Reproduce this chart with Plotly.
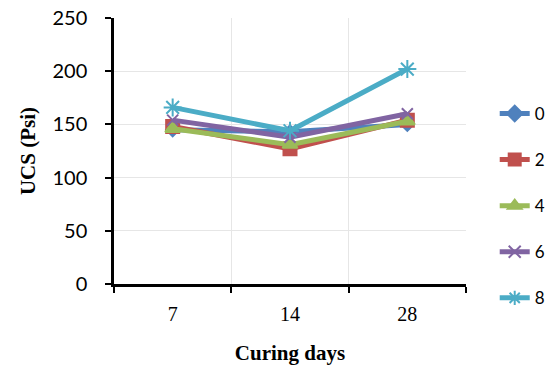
import plotly.graph_objects as go

# Curing period (days) and unconfined compressive strength (psi) per additive content
curing_days = ["7", "14", "28"]
series_names = ["0", "2", "4", "6", "8"]
ucs_0 = [145, 143, 150]
ucs_2 = [148, 127, 154]
ucs_4 = [146, 131, 153]
ucs_6 = [154, 138, 160]
ucs_8 = [166, 144, 202]
y_ticks = [0, 50, 100, 150, 200, 250]

series = [ucs_0, ucs_2, ucs_4, ucs_6, ucs_8]
colors = ["#4F81BD", "#C0504D", "#9BBB59", "#8064A2", "#4BACC6"]
symbols = ["diamond", "square", "triangle-up", "x-thin", "asterisk-open"]
sizes = [10, 13, 13, 11, 15]

fig = go.Figure()
for name, vals, col, sym, sz in zip(series_names, series, colors, symbols, sizes):
    fig.add_trace(go.Scatter(
        x=curing_days, y=vals, name=name, mode="lines+markers",
        line=dict(color=col, width=5),
        marker=dict(symbol=sym, size=sz, color=col,
                    line=dict(color=col, width=2)),
        legendgroup=name,
    ))

fig.update_layout(
    width=559, height=376,
    margin=dict(l=114, r=93, t=18, b=92, autoexpand=False),
    paper_bgcolor="white", plot_bgcolor="white",
    showlegend=True,
    legend=dict(xref="container", yref="container",
                x=0.885, xanchor="left", y=0.745, yanchor="top",
                itemsizing="constant", maxheight=330,
                font=dict(family="Lato", size=17, color="black"),
                tracegroupgap=21, bgcolor="rgba(0,0,0,0)"),
    xaxis=dict(
        type="category", tickson="boundaries", ticks="outside", ticklen=6,
        tickwidth=2, tickcolor="black", showline=True, linecolor="black",
        linewidth=2.5, showgrid=True, gridcolor="#e6e6e6", gridwidth=1,
        tickfont=dict(family="Liberation Serif", size=20, color="black"),
        ticklabelstandoff=10,
        title=dict(text="<b>Curing days</b>", standoff=22,
                   font=dict(family="Liberation Serif", size=21, color="black")),
        range=[-0.5, 2.5], zeroline=False,
    ),
    yaxis=dict(
        range=[0, 250], tickvals=y_ticks, ticks="outside", ticklen=6,
        tickwidth=2, tickcolor="black", showline=True, linecolor="black",
        linewidth=2.5, showgrid=True, gridcolor="#e6e6e6", gridwidth=1,
        zeroline=False, ticklabelstandoff=14,
        tickfont=dict(family="Lato", size=20, color="black"),
        title=dict(text="<b>UCS (Psi)</b>", standoff=12,
                   font=dict(family="Liberation Serif", size=21, color="black")),
    ),
)

fig.write_html("out.html")
